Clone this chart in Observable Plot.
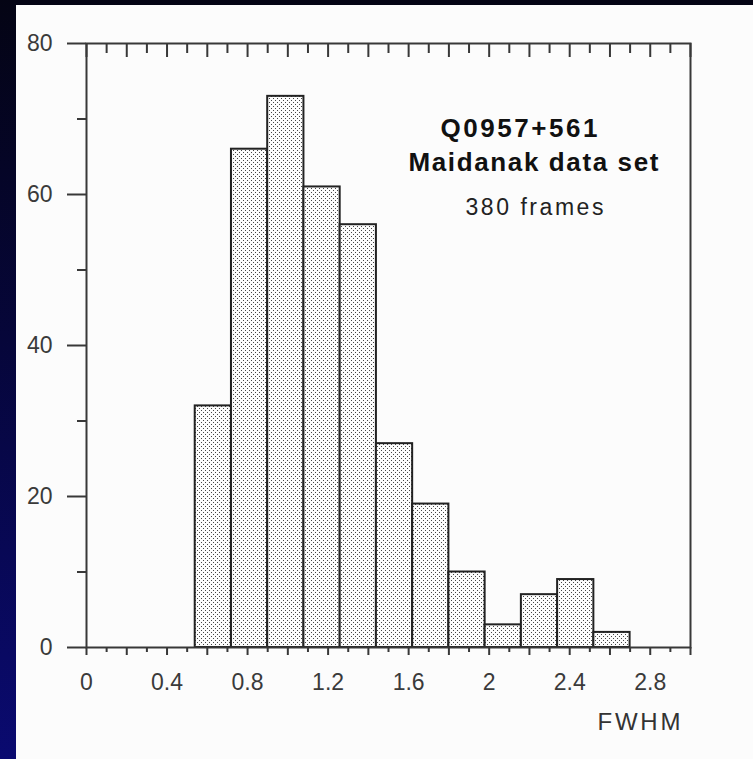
<!DOCTYPE html>
<html><head><meta charset="utf-8">
<script src="https://cdn.jsdelivr.net/npm/d3@7"></script>
<script src="https://cdn.jsdelivr.net/npm/@observablehq/plot@0.6"></script>
<style>
html,body{margin:0;padding:0;width:753px;height:759px;overflow:hidden;
  background:linear-gradient(to bottom,#040414 0%,#06063a 45%,#0a0a70 100%);}
#panel{position:absolute;left:16px;top:5px;width:737px;height:754px;background:#fcfcfc;}
</style></head><body><div id="panel"></div>
<script>
// ---- data ----
const binStart = [0.54, 0.72, 0.90, 1.08, 1.26, 1.44, 1.62, 1.80, 1.98, 2.16, 2.34, 2.52];
const binEnd   = [0.72, 0.90, 1.08, 1.26, 1.44, 1.62, 1.80, 1.98, 2.16, 2.34, 2.52, 2.70];
const counts   = [32, 66, 73, 61, 56, 27, 19, 10, 3, 7, 9, 2];
const xMajorTicks = [0, 0.2, 0.4, 0.6, 0.8, 1.0, 1.2, 1.4, 1.6, 1.8, 2.0, 2.2, 2.4, 2.6, 2.8, 3.0];
const xMinorTicks = [0.1, 0.3, 0.5, 0.7, 0.9, 1.1, 1.3, 1.5, 1.7, 1.9, 2.1, 2.3, 2.5, 2.7, 2.9];
const xTickLabels = ["0", "0.4", "0.8", "1.2", "1.6", "2", "2.4", "2.8"];
const yMajorTicks = [0, 20, 40, 60, 80];
const yMinorTicks = [10, 30, 50, 70];
const yTickLabels = ["0", "20", "40", "60", "80"];
const titleLines = ["Q0957+561", "Maidanak data set"];
const noteText = "380 frames";
const xLabel = "FWHM";

const bars = binStart.map((s, i) => ({x1: s, x2: binEnd[i], count: counts[i]}));

const W = 737, H = 754;
const font = "'Liberation Sans', Arial, Helvetica, sans-serif";
const tickColor = "#383838";

const svg = Plot.plot({
  width: W, height: H,
  marginLeft: 70, marginRight: 63, marginTop: 38, marginBottom: 112,
  style: {background: "transparent", fontFamily: font, color: "#333", overflow: "visible"},
  x: {domain: [0, 3.0]},
  y: {domain: [0, 80]},
  marks: [
    Plot.rectY(bars, {x1: "x1", x2: "x2", y1: 0, y2: "count", fill: "url(#dots)", stroke: "#222", strokeWidth: 2}),
    // inward ticks along the top edge
    Plot.tickX(xMajorTicks, {x: d => d, insetBottom: 590, stroke: tickColor, strokeWidth: 2}),
    Plot.tickX(xMinorTicks, {x: d => d, insetBottom: 594, stroke: tickColor, strokeWidth: 2}),
    // outward ticks along the bottom
    Plot.axisX({ticks: xMajorTicks, tickSize: 8, tickFormat: () => "", label: null, stroke: tickColor, strokeWidth: 2}),
    Plot.axisX({ticks: xMinorTicks, tickSize: 5, tickFormat: () => "", label: null, stroke: tickColor, strokeWidth: 2}),
    // outward ticks on the left
    Plot.axisY({ticks: yMajorTicks, tickSize: 19, tickFormat: () => "", label: null, stroke: tickColor, strokeWidth: 2}),
    Plot.axisY({ticks: yMinorTicks, tickSize: 9, tickFormat: () => "", label: null, stroke: tickColor, strokeWidth: 2}),
    Plot.frame({stroke: tickColor, strokeWidth: 2}),
    // tick labels
    Plot.text(xTickLabels, {x: d => +d, text: d => d, frameAnchor: "bottom", dy: 42, lineAnchor: "bottom",
      fontSize: 23, fill: "#3a3a3a"}),
    Plot.text(yTickLabels, {y: d => +d, text: d => d, frameAnchor: "left", dx: -34, textAnchor: "end", lineAnchor: "middle",
      fontSize: 23, fill: "#3a3a3a"}),
    // annotations
    Plot.text([titleLines[0]], {x: 2.148, y: 67.64, text: d => d, lineAnchor: "bottom", fontSize: 26, fontWeight: "bold", fill: "#111"}),
    Plot.text([titleLines[1]], {x: 2.220, y: 63.14, text: d => d, lineAnchor: "bottom", fontSize: 26, fontWeight: "bold", fill: "#111"}),
    Plot.text([noteText], {x: 2.225, y: 57.31, text: d => d, lineAnchor: "bottom", fontSize: 23, fill: "#222"}),
    Plot.text([xLabel], {x: 2.744, y: -10.9, text: d => d, lineAnchor: "bottom", fontSize: 24, fill: "#333"})
  ]
});

// dotted fill pattern
const ns = "http://www.w3.org/2000/svg";
const defs = document.createElementNS(ns, "defs");
const pat = document.createElementNS(ns, "pattern");
pat.setAttribute("id", "dots");
pat.setAttribute("patternUnits", "userSpaceOnUse");
pat.setAttribute("width", 4); pat.setAttribute("height", 4);
const bg = document.createElementNS(ns, "rect");
bg.setAttribute("width", 4); bg.setAttribute("height", 4); bg.setAttribute("fill", "#fcfcfc");
pat.appendChild(bg);
[[1, 1], [3, 3]].forEach(([px, py]) => {
  const r = document.createElementNS(ns, "rect");
  r.setAttribute("x", px); r.setAttribute("y", py);
  r.setAttribute("width", 1); r.setAttribute("height", 1);
  r.setAttribute("fill", "#444");
  r.setAttribute("shape-rendering", "crispEdges");
  pat.appendChild(r);
});
defs.appendChild(pat);
svg.insertBefore(defs, svg.firstChild);

// stretch the wide-set lettering like the original
const lengths = {"Q0957+561": 157, "Maidanak data set": 250, "380 frames": 138, "FWHM": 83};
svg.querySelectorAll("text").forEach(t => {
  const L = lengths[t.textContent];
  if (L) { t.setAttribute("textLength", L); t.setAttribute("lengthAdjust", "spacing"); }
});

document.getElementById("panel").appendChild(svg);
</script>
</body></html>
